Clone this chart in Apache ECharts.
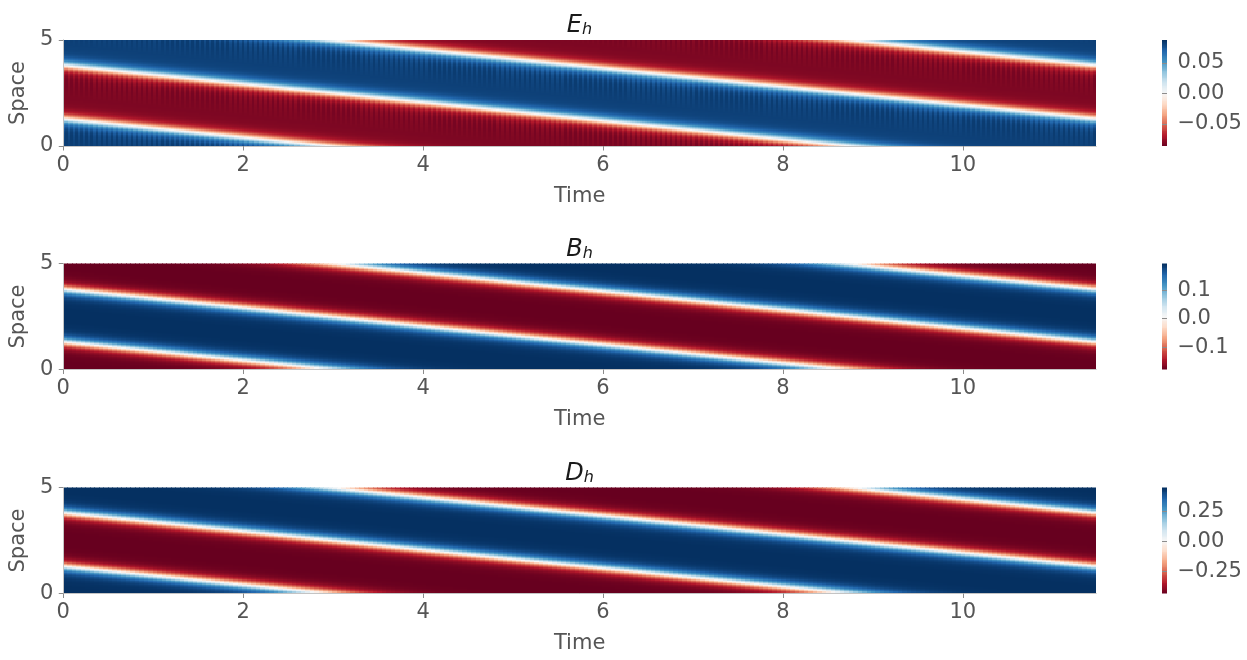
<!DOCTYPE html>
<html>
<head>
<meta charset="utf-8">
<title>E_h, B_h, D_h</title>
<script src="https://cdn.jsdelivr.net/npm/echarts@6/dist/echarts.min.js"></script>
<style>
  html, body { margin: 0; padding: 0; background: #ffffff; }
  #chart { width: 1247px; height: 660px; }
</style>
</head>
<body>
<div id="chart"></div>
<script>
// ---- axes ----
const timeMax = 11.48;
const spaceMax = 5;
const timeTicks = [0, 2, 4, 6, 8, 10];
const spaceTicks = [0, 5];

// ---- fields ----
const fieldSymbols = ['E', 'B', 'D'];
const fieldMin = [-0.0865, -0.178, -0.431];
const fieldMax = [0.0878, 0.193, 0.446];
const colorbarTicksE = [-0.05, 0, 0.05];
const colorbarTicksB = [-0.1, 0, 0.1];
const colorbarTicksD = [-0.25, 0, 0.25];
const colorbarDecimals = [2, 1, 2];

// zero-crossing fronts: space position at t = 0, and their drift (towards 0)
const frontStart = [3.82, 1.31];
const frontSpeed = 0.4355;
// sign of each field just above the first front
const fieldSignAboveFront = [1, -1, 1];

// |value| / extreme across a front, against distance from it (space units)
const profileDist = [0, 0.06, 0.12, 0.18, 0.24, 0.3, 0.36, 0.48, 0.6, 0.72, 0.96, 2.5];
const profileLevel = [0, 0.22, 0.42, 0.58, 0.71, 0.8, 0.87, 0.94, 0.975, 0.99, 1, 1];
// plateau level of each field between fronts
const plateauLevel = [0.94, 1, 1];
// E_h grid ripple running ahead of each front: distance below front -> amplitude
const rippleDist = [0, 0.2, 0.5, 1.0, 1.5];
const rippleAmp = [0, 0.03, 0.035, 0.015, 0];
const hasRipple = [true, false, false];

// sampling of the space-time plane
const timeColumns = [410, 230, 230];
const spaceRows = 80;
const colorbarSteps = 120;

// matplotlib RdBu, low -> high
const RdBu = ['#67001f', '#b2182b', '#d6604d', '#f4a582', '#fddbc7', '#f7f7f7',
              '#d1e5f0', '#92c5de', '#4393c3', '#2166ac', '#053061'];

// ---- layout ----
const panelTops = [40, 263.5, 487.5];
const plotLeft = 63, plotWidth = 1033, plotHeight = 106;
const barLeft = 1162, barWidth = 4.5;
const textGrey = '#555555';
const tickGrey = '#8c8c8c';
const borderGrey = '#c4c4c4';
const font = 'DejaVu Sans';

function lookup(xs, ys, x) {
  if (x <= xs[0]) return ys[0];
  for (let k = 1; k < xs.length; k++) {
    if (x <= xs[k]) {
      const f = (x - xs[k - 1]) / (xs[k] - xs[k - 1]);
      return ys[k - 1] + f * (ys[k] - ys[k - 1]);
    }
  }
  return ys[ys.length - 1];
}
const wrap = v => ((v % spaceMax) + spaceMax) % spaceMax;

// cells [time, space, value] at the centre of each sample
function fieldCells(p) {
  const nT = timeColumns[p];
  const dt = timeMax / nT, ds = spaceMax / spaceRows;
  const cells = [];
  for (let i = 0; i < nT; i++) {
    const t = (i + 0.5) * dt;
    const fronts = frontStart.map(s0 => wrap(s0 - frontSpeed * t));
    const span = wrap(fronts[1] - fronts[0]);
    for (let j = 0; j < spaceRows; j++) {
      const s = (j + 0.5) * ds;
      const above = wrap(s - fronts[0]) < span;
      const dist = Math.min(...fronts.map(f => {
        const d = Math.abs(s - f);
        return Math.min(d, spaceMax - d);
      }));
      let level = plateauLevel[p] * lookup(profileDist, profileLevel, dist);
      if (hasRipple[p]) {
        const ahead = Math.min(...fronts.map(f => wrap(f - s)));
        level += (i % 2 ? 1 : -1) * lookup(rippleDist, rippleAmp, ahead);
      }
      level = Math.max(0, Math.min(level, 0.999));
      const positive = above === (fieldSignAboveFront[p] > 0);
      cells.push([t, s, positive ? level * fieldMax[p] : level * fieldMin[p]]);
    }
  }
  return cells;
}

function colorbarCells(p) {
  const cells = [];
  const step = (fieldMax[p] - fieldMin[p]) / colorbarSteps;
  for (let j = 0; j < colorbarSteps; j++) cells.push([0.5, fieldMin[p] + (j + 0.5) * step, fieldMin[p] + (j + 0.5) * step]);
  return cells;
}

// a cell drawn as a pixel-snapped rectangle through the axes' scales
function cellRenderer(halfW, halfH) {
  return function (params, api) {
    const x = api.value(0), y = api.value(1);
    const a = api.coord([x - halfW, y + halfH]);
    const b = api.coord([x + halfW, y - halfH]);
    const x0 = Math.floor(a[0]), y0 = Math.floor(a[1]);
    const x1 = Math.ceil(b[0]), y1 = Math.ceil(b[1]);
    return {
      type: 'rect',
      shape: { x: x0, y: y0, width: x1 - x0, height: y1 - y0 },
      style: { fill: api.visual('color') },
      silent: true
    };
  };
}

const minusFmt = d => v => (v < 0 ? '\u2212' : '') + Math.abs(v).toFixed(d);
const colorbarTicks = [colorbarTicksE, colorbarTicksB, colorbarTicksD];
const border = { show: true, lineStyle: { color: borderGrey, width: 1 } };

const grid = [], xAxis = [], yAxis = [], series = [], visualMap = [], title = [];
const fieldSeries = [], barSeries = [];

fieldSymbols.forEach((sym, p) => {
  const top = panelTops[p];
  // main plot
  const g = grid.push({ left: plotLeft, top: top, width: plotWidth, height: plotHeight }) - 1;
  const xv = xAxis.push({
    type: 'value', gridIndex: g, position: 'bottom', min: 0, max: timeMax,
    name: 'Time', nameLocation: 'middle', nameGap: 40,
    nameTextStyle: { fontFamily: font, fontSize: 21, color: textGrey },
    axisLine: border,
    axisTick: { show: true, length: 4.5, customValues: timeTicks, lineStyle: { color: tickGrey } },
    axisLabel: { customValues: timeTicks, margin: 9, fontFamily: font, fontSize: 21, color: textGrey },
    splitLine: { show: false }, z: 10
  }) - 1;
  xAxis.push({
    type: 'value', gridIndex: g, position: 'top', min: 0, max: timeMax,
    axisLine: border, axisTick: { show: false }, axisLabel: { show: false },
    splitLine: { show: false }, z: 10
  });
  const yv = yAxis.push({
    type: 'value', gridIndex: g, position: 'left', min: 0, max: spaceMax,
    name: 'Space', nameLocation: 'middle', nameGap: 28, nameRotate: 90,
    nameTextStyle: { fontFamily: font, fontSize: 21, color: textGrey },
    axisLine: border,
    axisTick: { show: true, length: 4.5, customValues: spaceTicks, lineStyle: { color: tickGrey } },
    axisLabel: { customValues: spaceTicks, margin: 10, fontFamily: font, fontSize: 21, color: textGrey },
    splitLine: { show: false }, z: 10
  }) - 1;
  yAxis.push({
    type: 'value', gridIndex: g, position: 'right', min: 0, max: spaceMax,
    axisLine: border, axisTick: { show: false }, axisLabel: { show: false },
    splitLine: { show: false }, z: 10
  });
  fieldSeries.push({
    type: 'custom', name: sym + '_h', xAxisIndex: xv, yAxisIndex: yv,
    data: fieldCells(p), encode: { x: 0, y: 1 },
    renderItem: cellRenderer(timeMax / timeColumns[p] / 2, spaceMax / spaceRows / 2),
    clip: true, animation: false, progressive: 0, silent: true
  });

  // colour bar
  const cg = grid.push({ left: barLeft, top: top, width: barWidth, height: plotHeight }) - 1;
  const cx = xAxis.push({ type: 'value', gridIndex: cg, min: 0, max: 1, show: false }) - 1;
  const cy = yAxis.push({
    type: 'value', gridIndex: cg, position: 'right', min: fieldMin[p], max: fieldMax[p],
    axisLine: { show: false },
    axisTick: { show: true, length: 5, customValues: colorbarTicks[p], lineStyle: { color: tickGrey } },
    axisLabel: { customValues: colorbarTicks[p], margin: 11, fontFamily: font, fontSize: 21,
                 color: textGrey, formatter: minusFmt(colorbarDecimals[p]) },
    splitLine: { show: false }, z: 10
  }) - 1;
  barSeries.push({
    type: 'custom', xAxisIndex: cx, yAxisIndex: cy, data: colorbarCells(p), encode: { x: 0, y: 1 },
    renderItem: cellRenderer(0.5, (fieldMax[p] - fieldMin[p]) / colorbarSteps / 2),
    clip: true, animation: false, progressive: 0, silent: true
  });

  title.push({
    text: '{v|' + sym + '}{s|h}',
    left: (plotLeft + plotWidth / 2), top: top - 30, textAlign: 'center', padding: 0,
    textStyle: {
      fontWeight: 'normal',
      rich: {
        v: { fontFamily: font, fontStyle: 'italic', fontWeight: 'normal', fontSize: 24, lineHeight: 28,
             color: '#1a1a1a', verticalAlign: 'bottom' },
        s: { fontFamily: font, fontStyle: 'italic', fontWeight: 'normal', fontSize: 16, lineHeight: 17,
             color: '#1a1a1a', verticalAlign: 'bottom' }
      }
    }
  });
});

series.push(...fieldSeries, ...barSeries);
fieldSymbols.forEach((sym, p) => {
  visualMap.push({
    type: 'continuous', show: false, min: fieldMin[p], max: fieldMax[p], dimension: 2,
    seriesIndex: [p, fieldSymbols.length + p], inRange: { color: RdBu }
  });
});

const chart = echarts.init(document.getElementById('chart'), null, { renderer: 'canvas' });
chart.setOption({
  animation: false,
  backgroundColor: '#ffffff',
  textStyle: { fontFamily: font },
  title, grid, xAxis, yAxis, visualMap, series
});
</script>
</body>
</html>
